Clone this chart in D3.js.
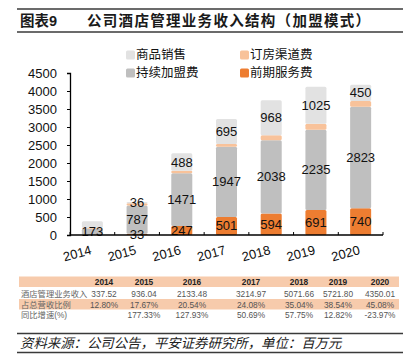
<!DOCTYPE html>
<html><head><meta charset="utf-8">
<script src="https://cdn.jsdelivr.net/npm/d3@7/dist/d3.min.js"></script>
<style>
body{margin:0;background:#fff;}
svg{display:block;font-family:"Liberation Sans","Noto Sans CJK SC",sans-serif;}
</style></head><body>
<svg id="c" width="415" height="362"></svg>
<script>
const years = ["2014","2015","2016","2017","2018","2019","2020"];
const seriesNames = ["前期服务费","持续加盟费","订房渠道费","商品销售"];
const qianqi  = [0, 33, 247, 501, 594, 691, 740];
const chixu   = [173, 787, 1471, 1947, 2038, 2235, 2823];
const dingfang= [20, 60, 65, 80, 140, 165, 160];
const shangpin= [190, 36, 488, 695, 968, 1025, 450];
const labelShown = [ [false,true,true,true,true,true,true], [true,true,true,true,true,true,true], [false,false,false,false,false,false,false], [false,true,true,true,true,true,true] ];
const yTicks = [0,500,1000,1500,2000,2500,3000,3500,4000,4500];
const tableRowLabels = ["酒店管理业务收入","占总营收比例","同比增速(%)"];
const tableRev   = ["337.52","936.04","2133.48","3214.97","5071.66","5721.80","4350.01"];
const tableShare = ["12.80%","17.67%","20.54%","24.08%","35.04%","38.54%","45.08%"];
const tableGrowth= ["","177.33%","127.93%","50.69%","57.75%","12.82%","-23.97%"];
const tableColX  = [104,144,192,251,299,338,380];

const colors = ["#ed7d31","#bfbfbf","#f8c29a","#e2e2e2"];
const seriesVals = [qianqi, chixu, dingfang, shangpin];

const svg = d3.select("#c");

// title
svg.append("line").attr("x1",17).attr("x2",403).attr("y1",9).attr("y2",9).attr("stroke","#3a3a3a").attr("stroke-width",1.3);
svg.append("line").attr("x1",17).attr("x2",403).attr("y1",32).attr("y2",32).attr("stroke","#3a3a3a").attr("stroke-width",1.3);
svg.append("text").attr("x",20).attr("y",21).attr("dominant-baseline","central").attr("font-size",14.5).attr("font-weight","bold").attr("fill","#1a1a1a").text("图表9");
svg.append("text").attr("x",87).attr("y",21).attr("dominant-baseline","central").attr("font-size",14.5).attr("font-weight","bold").attr("letter-spacing",1.3).attr("fill","#1a1a1a").text("公司酒店管理业务收入结构（加盟模式）");

// scales
const x = d3.scaleBand().domain(years).range([70,383]).paddingInner(0.53).paddingOuter(0.265);
const y = d3.scaleLinear().domain([0,4500]).range([235,73]);

// data stacking
const table = years.map((yr,i)=>{const o={year:yr}; seriesNames.forEach((s,k)=>o[s]=seriesVals[k][i]); return o;});
const stack = d3.stack().keys(seriesNames)(table);

const g = svg.append("g");
stack.forEach((layer,k)=>{
  g.selectAll(null).data(layer).enter().append("rect")
    .attr("x",d=>x(d.data.year)).attr("width",x.bandwidth())
    .attr("y",d=>y(d[1])).attr("height",d=>Math.max(0,y(d[0])-y(d[1])))
    .attr("rx",1.5).attr("fill",colors[k]);
});

// axes
const yAxis = d3.axisLeft(y).tickValues(yTicks).tickFormat(d3.format("d")).tickSize(3).tickPadding(10);
const ya = svg.append("g").attr("transform","translate(70,0)").call(yAxis);
ya.select(".domain").attr("stroke","#000").attr("stroke-width",1.3);
ya.selectAll(".tick line").attr("stroke","#000");
ya.selectAll(".tick text").attr("font-size",13).attr("fill","#111").attr("font-family","Liberation Sans, sans-serif");

const xAxis = d3.axisBottom(x).tickSize(0).tickFormat("");
const xa = svg.append("g").attr("transform","translate(0,235)").call(xAxis);
xa.select(".domain").attr("stroke","#000").attr("stroke-width",1.5).attr("d","M70,0H383");
// boundary ticks (inward)
const step = x.step();
xa.selectAll("line.bt").data(d3.range(8)).enter().append("line").attr("class","bt")
  .attr("x1",(d)=>70+d*step).attr("x2",(d)=>70+d*step).attr("y1",0).attr("y2",-3).attr("stroke","#000");
// rotated labels
svg.append("g").selectAll("text").data(years).enter().append("text")
  .attr("transform",d=>`translate(${x(d)+x.bandwidth()/2},254) rotate(-15)`)
  .attr("text-anchor","end").attr("font-size",13).attr("fill","#111").text(d=>d);

// data labels
stack.forEach((layer,k)=>{
  g.selectAll(null).data(layer.filter((d,i)=>labelShown[k][i])).enter().append("text")
    .attr("x",d=>x(d.data.year)+x.bandwidth()/2).attr("y",d=>y((d[0]+d[1])/2))
    .attr("text-anchor","middle").attr("dominant-baseline","central")
    .attr("font-size",13).attr("fill","#111").text(d=>seriesVals[k][years.indexOf(d.data.year)]);
});

// legend
const legendItems = [
  {name:"商品销售", c:colors[3], x:126, y:55},
  {name:"持续加盟费", c:colors[1], x:126, y:73},
  {name:"订房渠道费", c:colors[2], x:240, y:55},
  {name:"前期服务费", c:colors[0], x:240, y:73}];
const lg = svg.append("g");
legendItems.forEach(it=>{
  lg.append("rect").attr("x",it.x).attr("y",it.y-4.5).attr("width",9).attr("height",9).attr("rx",1.5).attr("fill",it.c);
  lg.append("text").attr("x",it.x+10).attr("y",it.y).attr("dominant-baseline","central").attr("font-size",12.5).attr("fill","#111").text(it.name);
});

// table
const tb = svg.append("g").attr("font-size",8.3);
tb.append("rect").attr("x",19).attr("y",276.5).attr("width",380).attr("height",10.5).attr("fill","#f7cbac");
tb.append("rect").attr("x",19).attr("y",299).attr("width",380).attr("height",10.5).attr("fill","#f7cbac");
years.forEach((yr,i)=>{
  tb.append("text").attr("x",tableColX[i]).attr("y",282).attr("text-anchor","middle").attr("dominant-baseline","central").attr("font-weight","bold").attr("fill","#222").text(yr);
});
const rows = [tableRev, tableShare, tableGrowth];
const rowY = [293.5, 304.5, 315];
rows.forEach((r,j)=>{
  tb.append("text").attr("x",21).attr("y",rowY[j]).attr("dominant-baseline","central").attr("fill","#666").text(tableRowLabels[j]);
  r.forEach((v,i)=>{
    tb.append("text").attr("x",tableColX[i]).attr("y",rowY[j]).attr("text-anchor","middle").attr("dominant-baseline","central").attr("fill","#555").text(v);
  });
});

// source
svg.append("line").attr("x1",17).attr("x2",403).attr("y1",333.5).attr("y2",333.5).attr("stroke","#3a3a3a").attr("stroke-width",1.3);
svg.append("line").attr("x1",17).attr("x2",403).attr("y1",352.5).attr("y2",352.5).attr("stroke","#3a3a3a").attr("stroke-width",1.3);
svg.append("text").attr("x",20).attr("y",343).attr("dominant-baseline","central").attr("font-size",13.4).attr("font-style","italic").attr("fill","#222").text("资料来源：公司公告，平安证券研究所，单位：百万元");
</script>
</body></html>
